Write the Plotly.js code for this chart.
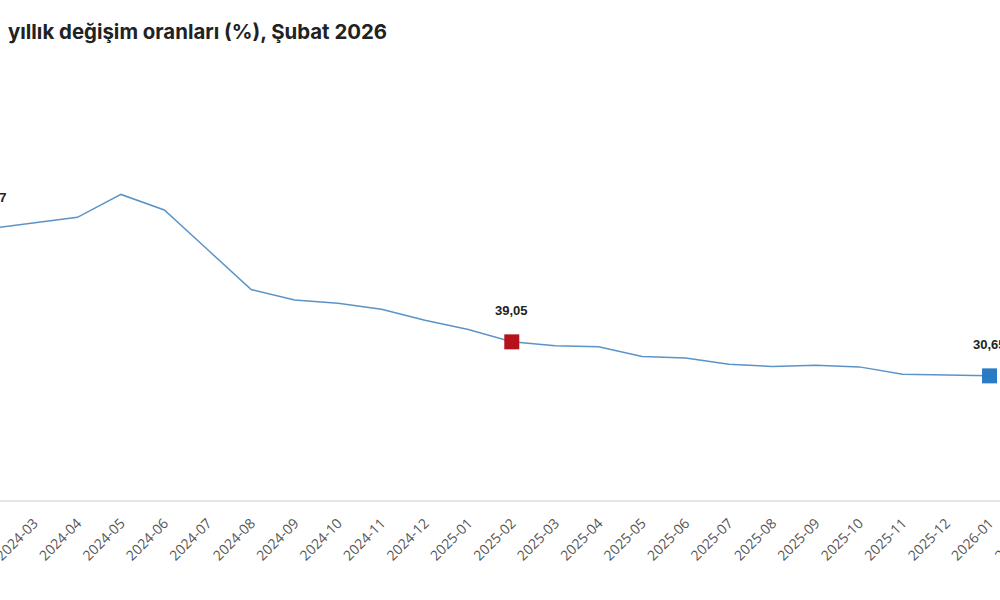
<!DOCTYPE html>
<html>
<head>
<meta charset="utf-8">
<script src="https://cdn.plot.ly/plotly-3.0.1.min.js"></script>
<style>
  html, body { margin: 0; padding: 0; width: 1000px; height: 600px; overflow: hidden; background: #fff; }
  #chart { position: absolute; left: -60px; top: 0; width: 1120px; height: 600px; }
</style>
</head>
<body>
<div id="chart"></div>
<script>
const months = ["2024-02","2024-03","2024-04","2024-05","2024-06","2024-07","2024-08","2024-09","2024-10","2024-11","2024-12","2025-01","2025-02","2025-03","2025-04","2025-05","2025-06","2025-07","2025-08","2025-09","2025-10","2025-11","2025-12","2026-01","2026-02"];
const rates = [67.07,68.50,69.80,75.45,71.60,61.78,51.97,49.38,48.58,47.09,44.38,42.12,39.05,38.10,37.86,35.41,35.05,33.52,32.95,33.29,32.87,31.07,30.89,30.65,null];
const labelIdx = [0, 12, 23];
const markerIdx = [12, 23];
const markerColors = ["#b5121b", "#2b7bc4"];
const titleText = "yıllık değişim oranları (%), Şubat 2026";

const fmt = v => v.toFixed(2).replace('.', ',');

const lineTrace = {
  type: 'scatter', mode: 'lines',
  x: months, y: rates,
  line: { color: '#5b93c6', width: 1.5 },
  hoverinfo: 'skip', cliponaxis: false
};
const markTrace = {
  type: 'scatter', mode: 'markers',
  x: markerIdx.map(i => months[i]), y: markerIdx.map(i => rates[i]),
  marker: { symbol: 'square', size: 15, color: markerColors, line: { width: 0 } },
  cliponaxis: false, hoverinfo: 'skip'
};
const annotations = labelIdx.map(i => ({
  x: months[i], y: rates[i], xref: 'x', yref: 'y',
  text: fmt(rates[i]), showarrow: false, yshift: 31,
  font: { family: 'Liberation Sans, Arial, sans-serif', size: 13, color: '#222', weight: 'bold' }
}));

const layout = {
  width: 1120, height: 600,
  margin: { l: 40, r: 13.6, t: 95, b: 100 },
  paper_bgcolor: '#fff', plot_bgcolor: '#fff',
  showlegend: false,
  title: {
    text: titleText, x: 68/1120, xanchor: 'left', xref: 'container',
    y: 1 - 32/600, yanchor: 'middle', yref: 'container',
    font: { family: 'Inter, sans-serif', size: 20.4, color: '#222', weight: 'bold' }
  },
  xaxis: {
    type: 'category', range: [-0.244, 24.3],
    tickangle: -45, showgrid: false, zeroline: false,
    showline: true, linecolor: '#e6e6e6', linewidth: 1.5,
    ticks: '', ticklabelstandoff: 8,
    tickfont: { family: 'Open Sans, sans-serif', size: 14, color: '#555' }
  },
  yaxis: { range: [0, 100], visible: false, showgrid: false, zeroline: false, fixedrange: true },
  annotations: annotations
};

Plotly.newPlot('chart', [lineTrace, markTrace], layout, { displayModeBar: false, staticPlot: true });
</script>
</body>
</html>
